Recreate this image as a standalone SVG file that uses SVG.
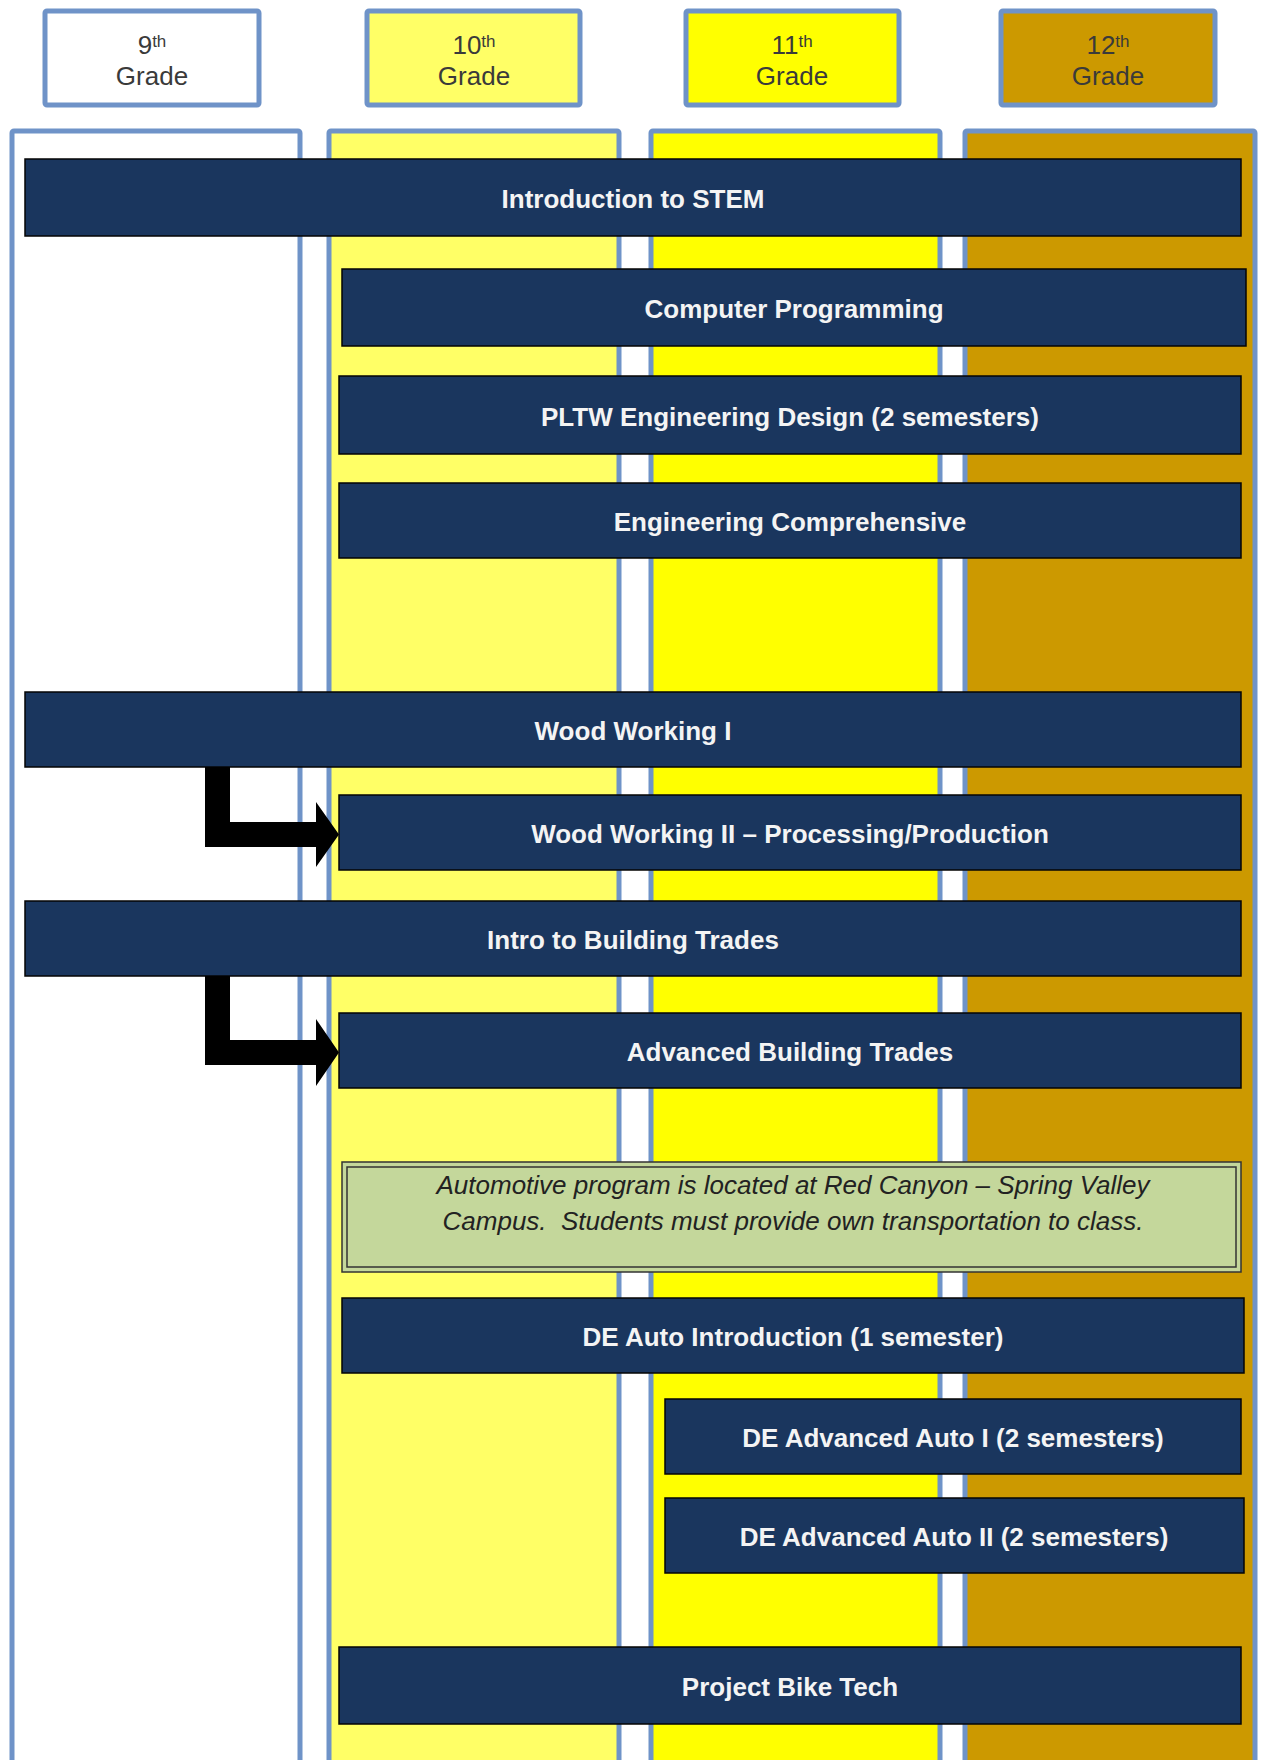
<svg xmlns="http://www.w3.org/2000/svg" width="1261" height="1760" viewBox="0 0 1261 1760">
<style>
.hdr{stroke:#6f93c8;stroke-width:5}
.col{stroke:#6f93c8;stroke-width:5}
.bar{fill:#1a365e;stroke:#050505;stroke-width:1.5}
.lbl{font-family:"Liberation Sans",Arial,sans-serif;font-weight:bold;font-size:26px;fill:#f4f4f4;text-anchor:middle}
.htxt{font-family:"Liberation Sans",Arial,sans-serif;font-size:26px;fill:#3a3a3a;text-anchor:middle}
.sup{font-size:17px}
.note{font-family:"Liberation Sans",Arial,sans-serif;font-style:italic;font-size:26px;fill:#222;text-anchor:middle;white-space:pre}
.arrow{fill:#000}
</style>
<rect width="1261" height="1760" fill="#fff"/>
<g id="columns">
<rect id="col9" class="col" x="12" y="131" width="288" height="1660" rx="2" fill="#ffffff"/>
<rect id="col10" class="col" x="329" y="131" width="290" height="1660" rx="2" fill="#ffff66"/>
<rect id="col11" class="col" x="651" y="131" width="289" height="1660" rx="2" fill="#ffff00"/>
<rect id="col12" class="col" x="965" y="131" width="290" height="1660" rx="2" fill="#cc9900"/>
</g>
<g id="hdr9"><rect class="hdr" x="45" y="11" width="214" height="94" rx="2" fill="#ffffff"/>
<text class="htxt" x="152" y="54">9<tspan class="sup" dy="-7">th</tspan></text>
<text class="htxt" x="152" y="85">Grade</text></g>
<g id="hdr10"><rect class="hdr" x="367" y="11" width="213" height="94" rx="2" fill="#ffff66"/>
<text class="htxt" x="474" y="54">10<tspan class="sup" dy="-7">th</tspan></text>
<text class="htxt" x="474" y="85">Grade</text></g>
<g id="hdr11"><rect class="hdr" x="686" y="11" width="213" height="94" rx="2" fill="#ffff00"/>
<text class="htxt" x="792" y="54">11<tspan class="sup" dy="-7">th</tspan></text>
<text class="htxt" x="792" y="85">Grade</text></g>
<g id="hdr12"><rect class="hdr" x="1001" y="11" width="214" height="94" rx="2" fill="#cc9900"/>
<text class="htxt" x="1108" y="54">12<tspan class="sup" dy="-7">th</tspan></text>
<text class="htxt" x="1108" y="85">Grade</text></g>

<g id="stem"><rect class="bar" x="25" y="159" width="1216" height="77"/><text class="lbl" x="633" y="208">Introduction to STEM</text></g>
<g id="comp"><rect class="bar" x="342" y="269" width="904" height="77"/><text class="lbl" x="794" y="318">Computer Programming</text></g>
<g id="pltw"><rect class="bar" x="339" y="376" width="902" height="78"/><text class="lbl" x="790" y="426">PLTW Engineering Design (2 semesters)</text></g>
<g id="engc"><rect class="bar" x="339" y="483" width="902" height="75"/><text class="lbl" x="790" y="531">Engineering Comprehensive</text></g>
<g id="ww1"><rect class="bar" x="25" y="692" width="1216" height="75"/><text class="lbl" x="633" y="740">Wood Working I</text></g>
<g id="ww2"><rect class="bar" x="339" y="795" width="902" height="75"/><text class="lbl" x="790" y="843">Wood Working II – Processing/Production</text></g>
<g id="ibt"><rect class="bar" x="25" y="901" width="1216" height="75"/><text class="lbl" x="633" y="949">Intro to Building Trades</text></g>
<g id="abt"><rect class="bar" x="339" y="1013" width="902" height="75"/><text class="lbl" x="790" y="1061">Advanced Building Trades</text></g>
<g id="note"><rect x="342" y="1162" width="899" height="110" fill="#c4d79b" stroke="#333" stroke-width="1.5"/>
<rect x="347" y="1167" width="889" height="100" fill="none" stroke="#333" stroke-width="1.5"/>
<text class="note" x="793" y="1194">Automotive program is located at Red Canyon – Spring Valley</text>
<text class="note" x="793" y="1230">Campus.  Students must provide own transportation to class.</text></g>
<g id="deai"><rect class="bar" x="342" y="1298" width="902" height="75"/><text class="lbl" x="793" y="1346">DE Auto Introduction (1 semester)</text></g>
<g id="dea1"><rect class="bar" x="665" y="1399" width="576" height="75"/><text class="lbl" x="953" y="1447">DE Advanced Auto I (2 semesters)</text></g>
<g id="dea2"><rect class="bar" x="665" y="1498" width="579" height="75"/><text class="lbl" x="954" y="1546">DE Advanced Auto II (2 semesters)</text></g>
<g id="pbt"><rect class="bar" x="339" y="1647" width="902" height="77"/><text class="lbl" x="790" y="1696">Project Bike Tech</text></g>

<g id="connectors">
<polygon class="arrow" points="205,767 230,767 230,822 316,822 316,802 339,834.5 316,867 316,847 205,847"/>
<polygon class="arrow" points="205,976 230,976 230,1040 316,1040 316,1019 339,1052.5 316,1086 316,1065 205,1065"/>
</g>
</svg>
